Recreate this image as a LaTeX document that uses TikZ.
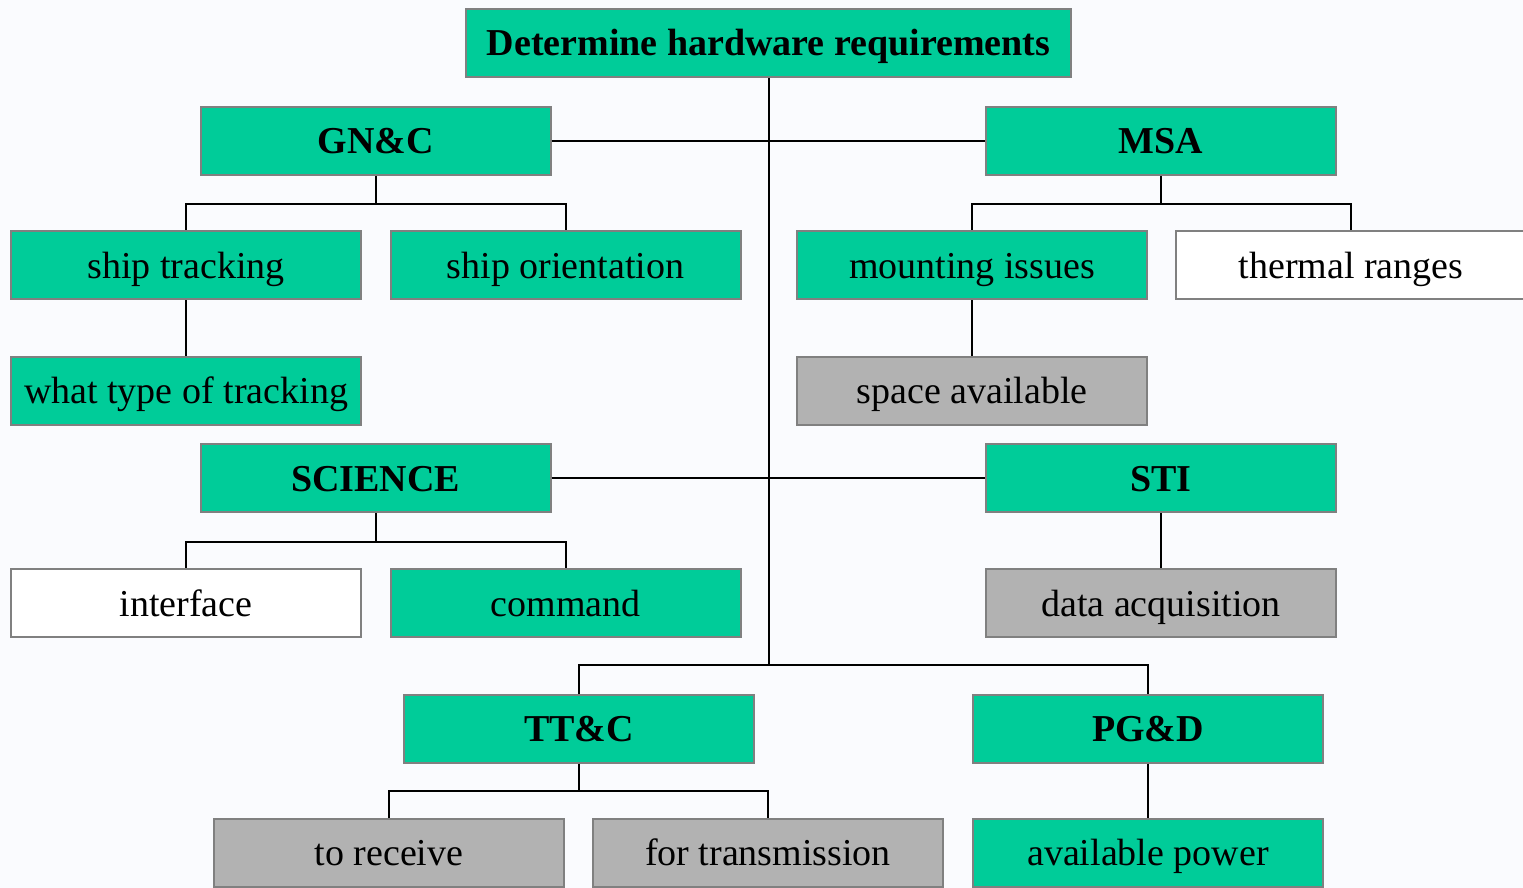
\documentclass[tikz,border=0pt]{standalone}
\usepackage{fontspec}
\setmainfont{Liberation Serif}
\definecolor{boxgreen}{RGB}{0,204,153}
\definecolor{boxgray}{RGB}{178,178,178}
\definecolor{boxline}{RGB}{128,128,128}
\definecolor{pagebg}{RGB}{250,251,254}

\begin{document}
\begin{tikzpicture}[x=0.5pt,y=-0.5pt,
  box/.style={draw=boxline,line width=1pt,minimum width=175pt,minimum height=34pt,
    inner sep=0pt,text height=15pt,text depth=2pt,font=\fontsize{19}{22}\selectfont},
  headbox/.style={box,fill=boxgreen,font=\fontsize{19}{22}\selectfont\bfseries},
  greenbox/.style={box,fill=boxgreen},
  whitebox/.style={box,fill=white},
  graybox/.style={box,fill=boxgray},
  link/.style={line width=1pt}]
\fill[pagebg] (0,0) rectangle (1523,888);
\useasboundingbox (0,0) rectangle (1523,888);

% top level
\node[headbox,minimum width=302.5pt] (root) at (768.5,43) {Determine hardware requirements};

% subsystems
\foreach \name/\x/\y/\txt in {gnc/375.5/141/GN\&C, msa/1161/141/MSA, sci/375.5/478/SCIENCE,
    sti/1161/478/STI, ttc/579/728.5/TT\&C, pgd/1148/728.5/PG\&D}{
  \node[headbox] (\name) at (\x,\y) {\txt};
}

% requirements
\foreach \name/\x/\y/\txt in {track/186/265.5/ship tracking, orient/565.5/265.5/ship orientation,
    mount/972/265.5/mounting issues, trtype/186/390.5/what type of tracking,
    cmd/565.5/603/command, power/1148/852.5/available power}{
  \node[greenbox] (\name) at (\x,\y) {\txt};
}
\foreach \name/\x/\y/\txt in {space/972/390.5/space available, daq/1161/603/data acquisition,
    recv/389/852.5/to receive, trans/768/852.5/for transmission}{
  \node[graybox] (\name) at (\x,\y) {\txt};
}
\node[whitebox] (therm) at (1351,265.5) {thermal ranges};
\node[whitebox] (iface) at (186,603) {interface};

% connectors
\coordinate (split) at (768.5,665);
\draw[link] (root) -- (split);
\draw[link] (ttc.north) |- (split) -| (pgd.north);
\draw[link] (gnc) -- (msa);
\draw[link] (sci) -- (sti);

\draw[link] (gnc.south) -- ++(0,28) -| (track.north);
\draw[link] (gnc.south) ++(0,28) -| (orient.north);
\draw[link] (msa.south) -- ++(0,28) -| (mount.north);
\draw[link] (msa.south) ++(0,28) -| (therm.north);
\draw[link] (sci.south) -- ++(0,28.5) -| (iface.north);
\draw[link] (sci.south) ++(0,28.5) -| (cmd.north);
\draw[link] (ttc.south) -- ++(0,27) -| (recv.north);
\draw[link] (ttc.south) ++(0,27) -| (trans.north);

\draw[link] (track) -- (trtype);
\draw[link] (mount) -- (space);
\draw[link] (sti) -- (daq);
\draw[link] (pgd) -- (power);
\end{tikzpicture}
\end{document}
